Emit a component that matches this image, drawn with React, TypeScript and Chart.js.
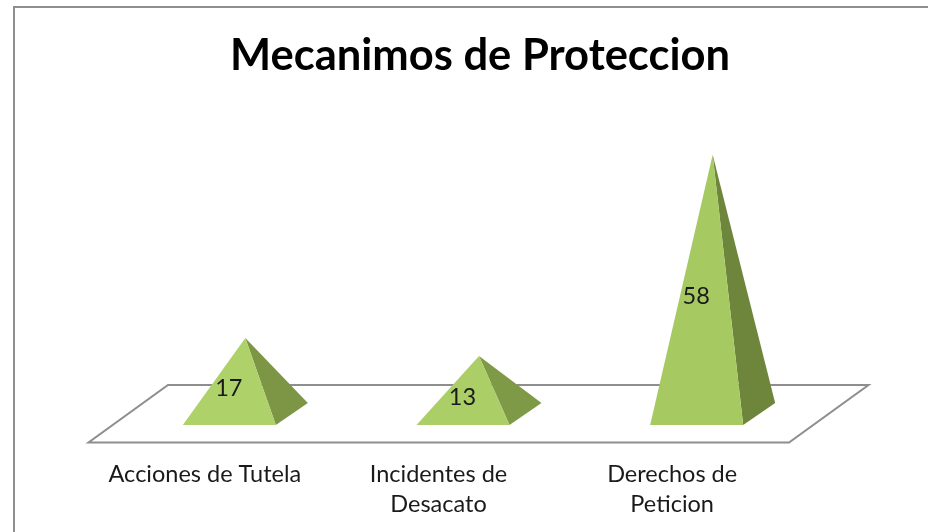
import React, { useEffect, useRef } from "react";
import { Chart, registerables } from "chart.js";

Chart.register(...registerables);

const categories: (string | string[])[] = [
  "Acciones de Tutela",
  ["Incidentes de", "Desacato"],
  ["Derechos de", "Peticion"],
];
const values = [17, 13, 58];
const titleText = "Mecanimos de Proteccion";

const frontColors = ["#AED269", "#ABCF66", "#A6C962"];
const sideColors = ["#7C9645", "#7F9A47", "#6E863C"];
const FONT = "Lato, 'Open Sans', sans-serif";
const TEXT = "#1a1a1a";
const LINE = "#8e8e8e";

// 3D projection of the floor: how far the back edge sits from the front edge
const FLOOR_DX = 80;
const FLOOR_DY = -57;
// the pyramid's base, inside the floor
const BASE_FRONT_DX = 24.5;
const BASE_FRONT_DY = -17;
const BASE_DEPTH_DX = 32;
const BASE_DEPTH_DY = -22;

const pyramidPlugin = {
  id: "pyramids",
  beforeDraw(chart: any) {
    const { ctx, width, height } = chart;
    ctx.save();
    ctx.fillStyle = "#fff";
    ctx.fillRect(0, 0, width, height);
    ctx.strokeStyle = LINE;
    ctx.lineWidth = 2;
    ctx.beginPath();
    ctx.moveTo(14, height);
    ctx.lineTo(14, 7);
    ctx.lineTo(width, 7);
    ctx.stroke();
    ctx.restore();
  },
  beforeDatasetsDraw(chart: any) {
    const { ctx, chartArea: a } = chart;
    ctx.save();
    ctx.strokeStyle = LINE;
    ctx.lineWidth = 2;
    ctx.lineJoin = "miter";
    ctx.beginPath();
    ctx.moveTo(a.left + 0.5, a.bottom + 0.5);
    ctx.lineTo(a.right, a.bottom + 0.5);
    ctx.lineTo(a.right + FLOOR_DX - 0.5, a.bottom + FLOOR_DY);
    ctx.lineTo(a.left + FLOOR_DX, a.bottom + FLOOR_DY);
    ctx.closePath();
    ctx.stroke();
    ctx.restore();
  },
  afterDatasetsDraw(chart: any) {
    const { ctx } = chart;
    const meta = chart.getDatasetMeta(0);
    ctx.save();
    meta.data.forEach((bar: any, i: number) => {
      const half = bar.width / 2;
      const fy = bar.base + BASE_FRONT_DY;
      const l = bar.x + BASE_FRONT_DX - half;
      const r = bar.x + BASE_FRONT_DX + half;
      const apexX = bar.x + BASE_FRONT_DX + BASE_DEPTH_DX / 2;
      const apexY = bar.y + BASE_FRONT_DY + BASE_DEPTH_DY / 2;

      ctx.fillStyle = sideColors[i];
      ctx.beginPath();
      ctx.moveTo(r, fy);
      ctx.lineTo(r + BASE_DEPTH_DX, fy + BASE_DEPTH_DY);
      ctx.lineTo(apexX, apexY);
      ctx.closePath();
      ctx.fill();

      ctx.fillStyle = frontColors[i];
      ctx.beginPath();
      ctx.moveTo(l, fy);
      ctx.lineTo(r, fy);
      ctx.lineTo(apexX, apexY);
      ctx.closePath();
      ctx.fill();

      ctx.fillStyle = TEXT;
      ctx.font = `23.5px ${FONT}`;
      ctx.textAlign = "center";
      ctx.textBaseline = "middle";
      ctx.fillText(String(values[i]), bar.x + BASE_FRONT_DX - 0.5, (fy + apexY) / 2 + 7);
    });
    ctx.restore();
  },
};

export default function App() {
  const ref = useRef<HTMLCanvasElement>(null);

  useEffect(() => {
    if (!ref.current) return;
    const chart = new Chart(ref.current, {
      type: "bar",
      data: {
        labels: categories,
        datasets: [
          {
            data: values,
            backgroundColor: "transparent",
            borderWidth: 0,
            categoryPercentage: 1,
            barPercentage: 0.398,
          },
        ],
      },
      options: {
        animation: false,
        responsive: false,
        layout: { padding: 0 },
        plugins: {
          legend: { display: false },
          tooltip: { enabled: false },
          title: {
            display: true,
            text: titleText,
            color: "#000",
            font: { family: FONT, size: 43.5, weight: "bold", lineHeight: 1.2 },
            padding: { top: 30, bottom: 47 },
          },
        },
        scales: {
          x: {
            grid: { display: false, drawTicks: false },
            border: { display: false },
            ticks: {
              color: TEXT,
              font: { family: FONT, size: 23.5, lineHeight: 30 / 23.5 },
              padding: 17,
              autoSkip: false,
              maxRotation: 0,
              minRotation: 0,
            },
            afterFit(s: any) {
              s.height = 90;
            },
          },
          y: {
            min: 0,
            max: 70,
            grid: { display: false, drawTicks: false },
            border: { display: false },
            ticks: { display: false },
            afterFit(s: any) {
              s.width = 88;
            },
          },
          yRight: {
            position: "right",
            min: 0,
            max: 70,
            grid: { display: false, drawTicks: false },
            border: { display: false },
            ticks: { display: false },
            afterFit(s: any) {
              s.width = 171;
            },
          },
        },
      },
      plugins: [pyramidPlugin],
    } as any);
    return () => chart.destroy();
  }, []);

  return (
    <div style={{ position: "fixed", left: 0, top: 0, width: 928, height: 532, overflow: "hidden", background: "#fff" }}>
      <canvas ref={ref} width={960} height={532} style={{ display: "block" }} />
    </div>
  );
}
